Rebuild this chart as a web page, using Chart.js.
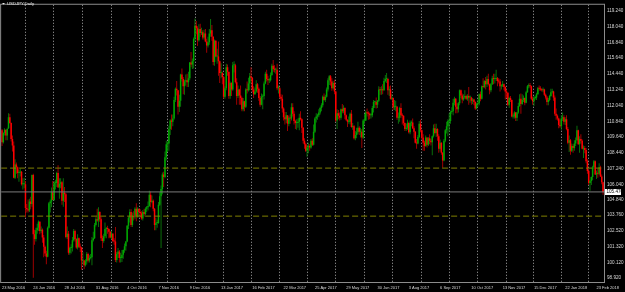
<!DOCTYPE html>
<html>
<head>
<meta charset="utf-8">
<title>USDJPY,Daily</title>
<script src="https://cdn.jsdelivr.net/npm/chart.js@4.4.0/dist/chart.umd.min.js"></script>
<style>
  html, body { margin: 0; padding: 0; background: #000; }
  canvas { display: block; }
</style>
</head>
<body>
<canvas id="chart" width="625" height="292"></canvas>
<script>
// USDJPY daily bars, 23 May 2016 .. 2 Mar 2018, one line per month
var opens = [
  110.15,109.25,109.95,110.2,109.75,110.3,111.15,
  110.7,109.5,109.0,106.55,107.55,107.35,106.9,106.95,107.0,106.05,106.05,106.05,104.25,104.15,104.05,104.75,104.55,106.75,102.25,101.9,102.55,102.75,
  103.2,102.5,102.6,102.0,101.3,100.8,100.55,102.75,104.6,104.75,105.45,104.85,106.15,106.15,106.9,105.8,106.1,106.2,104.8,105.4,105.3,
  102.05,102.3,100.85,101.2,101.25,101.8,102.5,101.9,101.25,101.95,101.3,101.25,100.25,100.25,99.9,100.2,100.75,100.25,100.45,100.5,101.8,101.95,102.95,
  103.4,103.3,103.95,103.4,101.95,101.75,102.1,102.65,102.7,102.65,102.45,102.0,102.3,101.75,101.7,100.3,100.75,100.95,100.45,100.45,100.7,101.05,
  101.35,101.7,102.9,103.5,103.95,102.95,103.65,103.55,104.2,103.6,104.2,103.95,103.85,103.45,103.95,103.8,104.2,104.3,104.4,105.25,104.7,
  104.8,104.2,102.95,103.1,103.1,104.5,105.15,105.7,106.8,106.6,108.1,109.1,109.15,110.25,110.9,110.8,111.05,112.45,113.3,113.2,111.95,112.4,
  114.4,114.05,113.5,113.85,113.95,113.8,114.1,115.3,115.15,115.4,117.1,118.1,117.9,117.0,117.85,117.55,117.6,117.2,117.5,116.9,116.6,
  116.85,117.5,117.75,117.25,115.35,116.95,115.75,115.75,115.4,114.5,114.5,114.2,112.7,113.35,114.95,114.6,112.75,113.75,113.25,115.1,115.1,113.8,
  112.75,113.25,112.8,112.6,111.75,112.35,111.95,113.25,113.2,113.7,114.25,114.15,113.25,112.9,113.1,113.65,113.3,112.6,112.1,112.7,
  112.75,113.7,114.45,114.05,113.95,113.95,114.35,115.05,114.8,114.75,114.75,113.35,113.35,112.7,112.55,111.8,111.15,111.0,111.3,110.65,111.1,111.05,111.9,
  111.4,110.85,110.7,110.7,110.8,111.1,111.0,110.35,109.35,109.1,108.6,108.85,108.95,108.85,109.35,109.05,110.05,111.05,111.2,111.3,
  111.5,111.85,112.05,112.7,112.45,112.7,113.25,113.95,114.25,113.85,113.35,113.75,113.1,110.9,111.45,111.25,111.1,111.75,111.6,111.85,111.3,110.95,110.8,
  110.8,111.4,110.4,110.45,109.55,109.8,110.0,110.35,110.05,110.05,109.6,110.9,110.9,111.5,111.45,111.4,111.3,111.3,111.85,112.3,112.3,112.1,
  112.4,113.25,113.2,113.25,113.2,113.9,114.05,114.05,113.2,113.25,112.55,112.6,111.9,111.95,111.95,111.1,111.1,111.85,111.3,111.25,110.7,
  110.25,110.35,110.7,110.0,110.7,110.75,110.3,110.05,109.2,109.15,109.65,110.65,110.15,109.6,109.2,108.95,109.6,109.05,109.55,109.35,109.25,109.7,110.3,
  109.95,110.25,109.7,108.75,109.2,108.45,107.85,109.35,110.15,110.45,110.85,110.85,111.55,111.6,112.25,112.55,111.95,111.75,112.2,113.2,112.8,
  112.5,112.65,112.75,112.55,112.75,112.65,112.65,112.4,112.5,112.3,111.8,112.15,112.2,112.9,112.55,113.5,113.45,113.9,113.65,114.05,113.65,113.2,
  113.65,114.1,114.05,114.05,114.1,113.9,113.85,113.5,113.55,113.65,113.45,113.1,113.0,112.1,112.6,112.45,111.2,111.2,111.5,111.1,111.5,112.0,
  112.55,112.15,112.45,112.6,112.25,113.05,113.5,113.55,113.5,112.55,112.35,112.6,112.65,112.9,113.35,113.3,113.25,113.2,113.25,112.85,
  112.65,112.3,112.45,112.75,113.05,113.1,112.65,111.4,111.25,111.05,110.55,110.45,111.05,111.15,110.8,111.0,110.25,109.2,109.4,108.6,108.95,108.8,
  109.15,109.4,110.15,109.1,109.5,109.35,108.75,108.8,108.65,107.8,107.05,106.15,106.3,106.6,107.35,107.8,106.8,106.9,106.85,107.35,106.65,106.2
];
var highs = [
  110.25,110.0,110.3,110.2,110.35,111.45,111.4,
  110.75,109.75,109.3,107.95,107.7,107.4,107.15,107.25,107.05,106.5,106.55,106.3,104.55,104.9,104.95,105.1,106.8,106.85,102.6,102.75,103.05,103.3,
  103.25,102.85,102.7,102.2,101.4,101.0,102.85,104.7,104.9,105.8,106.3,106.3,106.4,107.0,107.5,106.5,106.5,106.3,106.5,105.85,105.4,
  102.85,102.5,101.3,101.5,102.05,102.65,102.6,101.95,102.25,102.0,101.55,101.3,100.9,100.3,100.35,100.9,100.85,100.65,100.75,102.05,102.45,103.1,103.55,
  104.2,104.3,104.0,103.55,102.15,102.3,103.15,102.8,102.9,102.7,102.5,102.5,102.35,101.95,102.8,100.9,101.2,101.05,100.85,101.05,101.1,101.55,
  101.75,102.95,103.6,104.15,104.15,103.9,104.0,104.3,104.6,104.3,104.2,104.15,104.0,104.1,104.2,104.3,104.4,104.75,105.55,105.5,105.2,
  104.9,104.25,103.5,103.35,104.7,105.45,105.95,106.95,107.0,108.55,109.35,109.3,110.5,111.0,111.35,111.35,112.7,113.4,113.9,113.2,112.85,114.45,
  114.85,114.2,114.0,114.4,114.45,114.6,115.35,116.1,115.6,117.2,118.65,118.45,118.05,118.2,118.25,117.95,117.75,117.8,117.85,117.1,117.25,
  117.85,118.6,118.15,117.3,117.05,117.0,116.35,116.9,115.45,115.25,114.6,114.25,113.5,115.2,115.15,114.6,113.85,113.8,115.35,115.4,115.2,114.1,
  113.55,113.3,113.55,112.7,112.6,112.4,113.35,113.85,114.15,114.5,114.95,114.2,113.5,113.4,113.95,113.75,113.4,112.75,112.95,112.9,
  113.85,114.6,114.75,114.3,114.1,114.55,115.2,115.5,115.1,114.9,115.2,113.55,113.45,112.9,112.85,111.9,111.55,111.55,111.3,111.25,111.35,112.2,112.2,
  111.6,110.95,111.0,111.05,111.4,111.6,111.05,110.4,109.55,109.2,109.05,109.2,109.1,109.5,109.55,110.6,111.15,111.45,111.4,111.75,
  111.95,112.2,112.8,112.95,112.85,113.4,114.1,114.35,114.35,114.1,113.9,114.0,113.15,111.75,111.7,111.5,111.8,112.15,112.05,111.9,111.35,111.0,111.2,
  111.5,111.7,110.7,110.55,110.1,110.35,110.8,110.45,110.35,110.25,111.0,111.4,111.65,111.8,111.6,111.5,111.45,112.0,112.45,112.4,112.65,112.45,
  113.5,113.45,113.5,113.65,114.15,114.35,114.5,114.15,113.5,113.55,112.9,112.65,112.45,112.4,112.0,111.5,111.95,112.2,111.45,111.3,110.75,
  110.65,110.95,110.8,110.9,110.9,111.05,110.45,110.1,109.5,109.8,110.85,110.95,110.2,109.85,109.35,109.75,109.6,109.65,109.85,109.5,109.75,110.6,110.65,
  110.65,110.3,109.85,109.45,109.25,108.5,109.5,110.25,110.8,111.0,111.45,111.65,111.9,112.55,112.7,112.6,112.2,112.3,113.25,113.25,112.95,
  112.9,113.2,112.85,112.9,113.45,112.8,112.7,112.6,112.55,112.35,112.25,112.5,112.95,113.1,113.55,114.1,113.95,114.2,114.3,114.45,113.7,113.75,
  114.3,114.45,114.45,114.75,114.2,114.1,114.05,113.65,113.9,113.7,113.5,113.25,113.05,112.7,112.75,112.5,111.4,111.6,111.55,111.55,112.25,112.9,
  112.95,112.9,112.8,112.65,113.15,113.6,113.7,113.75,113.55,112.7,112.75,112.8,113.0,113.45,113.55,113.5,113.35,113.4,113.3,112.95,
  112.75,112.6,112.85,113.3,113.3,113.15,112.8,111.8,111.35,111.1,110.95,111.3,111.5,111.3,111.15,111.3,110.4,109.75,109.5,109.15,109.1,109.4,
  109.6,110.5,110.2,109.7,109.85,109.45,109.0,108.95,108.8,107.95,107.15,106.4,106.65,107.45,107.9,107.85,107.1,107.25,107.65,107.45,106.8,106.25
];
var lows = [
  108.95,109.15,109.75,109.4,109.4,110.25,110.65,
  109.3,108.55,106.5,106.45,106.85,106.5,106.25,106.65,105.95,105.65,105.75,103.55,103.9,103.9,103.95,104.15,104.35,98.95,101.45,101.7,102.3,102.5,
  102.25,102.35,101.6,100.5,100.6,99.98,100.5,102.7,103.9,104.3,104.85,104.8,105.65,105.85,105.8,104.95,105.75,104.5,104.35,104.7,101.95,
  101.9,100.7,100.7,100.8,100.95,101.7,101.7,101.15,101.1,101.2,100.9,99.55,99.95,99.6,99.8,99.95,100.1,100.1,100.35,99.9,101.7,101.9,102.85,
  103.2,102.8,103.2,101.75,101.2,101.6,101.95,101.95,102.3,101.95,101.95,101.85,101.65,101.45,100.15,100.1,100.45,100.1,100.1,100.15,100.4,100.85,
  101.0,101.65,102.65,103.15,102.8,102.8,103.3,103.4,103.25,103.5,103.55,103.55,103.35,103.3,103.6,103.7,103.95,104.05,104.35,104.3,104.6,
  104.0,102.55,102.55,102.75,103.05,104.4,101.2,105.3,105.85,106.5,107.85,108.5,108.6,109.8,110.2,110.45,110.95,112.3,112.8,111.35,111.55,111.95,
  113.85,112.9,112.85,113.55,113.45,113.45,113.95,114.95,114.8,114.85,116.95,117.45,116.55,116.9,117.25,117.4,117.05,117.05,116.85,116.05,116.45,
  116.65,117.25,116.95,115.1,115.05,115.7,115.2,114.3,113.75,114.1,113.65,112.55,112.55,113.2,114.3,112.55,112.55,112.75,113.15,114.55,113.7,112.1,
  112.6,112.1,112.1,111.6,111.6,111.6,111.85,112.95,113.1,113.2,113.9,113.05,112.6,112.85,113.0,113.0,112.4,111.95,112.05,111.75,
  112.5,113.65,113.85,113.6,113.75,113.85,114.3,114.6,114.55,114.45,113.2,112.95,112.55,112.4,111.5,110.9,110.6,110.7,110.1,110.45,110.65,110.9,111.2,
  110.6,110.25,110.2,110.35,110.15,110.9,109.95,109.15,108.75,108.5,108.15,108.4,108.6,108.75,108.95,109.0,109.95,110.75,110.95,111.15,
  111.35,111.6,111.9,112.4,112.3,112.65,113.1,113.6,113.55,113.15,113.25,112.9,110.8,110.25,111.0,110.9,110.95,111.45,111.45,111.0,110.85,110.4,110.65,
  110.6,110.35,110.2,109.45,109.4,109.55,109.85,109.8,109.6,108.8,109.5,110.65,110.85,111.2,110.95,111.0,111.05,111.15,111.5,111.85,111.8,111.85,
  112.3,112.85,112.85,112.9,113.15,113.8,113.75,112.85,112.75,112.5,112.45,111.7,111.7,111.6,110.95,110.65,110.8,111.1,110.6,110.5,110.1,
  110.1,110.2,109.9,109.85,110.45,110.25,109.55,109.15,108.75,109.1,109.55,110.0,109.5,108.6,108.6,108.9,108.85,108.95,109.1,109.0,108.25,109.6,109.85,
  109.65,109.35,108.45,108.55,108.3,107.3,107.8,109.25,109.9,109.7,110.05,110.65,111.4,111.3,112.05,111.45,111.45,111.5,112.05,112.6,112.2,
  112.4,112.55,112.45,112.4,112.1,112.25,112.1,112.15,112.05,111.7,111.75,111.95,112.05,112.35,112.5,113.35,113.35,113.25,113.45,113.55,112.9,113.05,
  113.6,113.65,113.7,113.9,113.5,113.7,113.1,113.25,113.45,113.2,112.5,112.6,112.0,111.85,112.3,111.15,111.05,111.05,110.85,110.85,111.4,111.95,
  111.4,112.1,112.3,112.05,112.2,113.0,113.35,113.35,112.45,112.1,112.0,112.5,112.45,112.85,113.15,113.15,113.1,113.05,112.75,112.5,
  112.05,112.05,112.35,112.7,112.95,112.4,111.25,110.95,110.9,110.3,110.35,110.2,110.85,110.6,110.55,110.15,109.1,108.5,108.3,108.5,108.45,108.6,
  108.95,109.35,109.05,108.45,109.15,108.7,108.05,108.4,107.65,106.85,106.0,105.55,106.0,106.35,107.2,106.75,106.45,106.55,106.75,106.6,106.05,105.25
];
var closes = [
  109.25,109.95,110.2,109.75,110.25,111.15,110.7,
  109.5,109.0,106.55,107.55,107.35,106.9,106.95,107.0,106.05,106.05,106.05,104.25,104.15,104.05,104.75,104.55,106.75,102.25,101.9,102.55,102.75,103.2,
  102.5,102.6,102.0,101.3,100.8,100.55,102.75,104.6,104.75,105.45,104.85,106.15,106.15,106.9,105.8,106.1,106.2,104.8,105.4,105.3,102.05,
  102.3,100.85,101.2,101.25,101.8,102.5,101.9,101.25,101.95,101.3,101.25,100.25,100.25,99.9,100.2,100.75,100.25,100.45,100.5,101.8,101.95,102.95,103.4,
  103.3,103.95,103.4,101.95,101.75,102.1,102.65,102.7,102.65,102.45,102.0,102.3,101.75,101.7,100.3,100.75,100.95,100.45,100.45,100.7,101.05,101.35,
  101.7,102.9,103.5,103.95,102.95,103.65,103.55,104.2,103.6,104.2,103.95,103.85,103.45,103.95,103.8,104.2,104.3,104.4,105.25,104.7,104.8,
  104.2,102.95,103.1,103.1,104.5,105.15,105.7,106.8,106.6,108.1,109.1,109.15,110.25,110.9,110.8,111.05,112.45,113.3,113.2,111.95,112.4,114.4,
  114.05,113.5,113.85,113.95,113.8,114.1,115.3,115.15,115.4,117.1,118.1,117.9,117.0,117.85,117.55,117.6,117.2,117.5,116.9,116.6,116.85,
  117.5,117.75,117.25,115.35,116.95,115.75,115.75,115.4,114.5,114.5,114.2,112.7,113.35,114.95,114.6,112.75,113.75,113.25,115.1,115.1,113.8,112.75,
  113.25,112.8,112.6,111.75,112.35,111.95,113.25,113.2,113.7,114.25,114.15,113.25,112.9,113.1,113.65,113.3,112.6,112.1,112.7,112.75,
  113.7,114.45,114.05,113.95,113.95,114.35,115.05,114.8,114.75,114.75,113.35,113.35,112.7,112.55,111.8,111.15,111.0,111.3,110.65,111.1,111.05,111.9,111.4,
  110.85,110.7,110.7,110.8,111.1,111.0,110.35,109.35,109.1,108.6,108.85,108.95,108.85,109.35,109.05,110.05,111.05,111.2,111.3,111.5,
  111.85,112.05,112.7,112.45,112.7,113.25,113.95,114.25,113.85,113.35,113.75,113.1,110.9,111.45,111.25,111.1,111.75,111.6,111.85,111.3,110.95,110.8,110.8,
  111.4,110.4,110.45,109.55,109.8,110.0,110.35,110.05,110.05,109.6,110.9,110.9,111.5,111.45,111.4,111.3,111.3,111.85,112.3,112.3,112.1,112.4,
  113.25,113.2,113.25,113.2,113.9,114.05,114.05,113.2,113.25,112.55,112.6,111.9,111.95,111.95,111.1,111.1,111.85,111.3,111.25,110.7,110.25,
  110.35,110.7,110.0,110.7,110.75,110.3,110.05,109.2,109.15,109.65,110.65,110.15,109.6,109.2,108.95,109.6,109.05,109.55,109.35,109.25,109.7,110.3,109.95,
  110.25,109.7,108.75,109.2,108.45,107.85,109.35,110.15,110.45,110.85,110.85,111.55,111.6,112.25,112.55,111.95,111.75,112.2,113.2,112.8,112.5,
  112.65,112.75,112.55,112.75,112.65,112.65,112.4,112.5,112.3,111.8,112.15,112.2,112.9,112.55,113.5,113.45,113.9,113.65,114.05,113.65,113.2,113.65,
  114.1,114.05,114.05,114.1,113.9,113.85,113.5,113.55,113.65,113.45,113.1,113.0,112.1,112.6,112.45,111.2,111.2,111.5,111.1,111.5,112.0,112.55,
  112.15,112.45,112.6,112.25,113.05,113.5,113.55,113.5,112.55,112.35,112.6,112.65,112.9,113.35,113.3,113.25,113.2,113.25,112.85,112.65,
  112.3,112.45,112.75,113.05,113.1,112.65,111.4,111.25,111.05,110.55,110.45,111.05,111.15,110.8,111.0,110.25,109.2,109.4,108.6,108.95,108.8,109.15,
  109.4,110.15,109.1,109.5,109.35,108.75,108.8,108.65,107.8,107.05,106.15,106.3,106.6,107.35,107.8,106.8,106.9,106.85,107.35,106.65,106.2,105.47
];

// trading calendar of the bars
var firstDay = '2016-05-23';
var lastDay = '2018-03-02';
var holidays = ['2016-12-26', '2017-12-25', '2018-01-01'];
var monthNames = ['Jan','Feb','Mar','Apr','May','Jun','Jul','Aug','Sep','Oct','Nov','Dec'];
var labelStep = 24;   // a date label every 24 bars

// right-hand price scale labels and horizontal levels
var priceTicks = [119.24, 118.04, 116.84, 115.64, 114.44, 113.24, 112.04, 110.84, 109.64,
                  108.44, 107.24, 106.04, 104.84, 103.76, 102.52, 101.32, 100.12, 98.92];
var levelLines = [107.28, 103.63];
var bidPrice = closes[closes.length - 1];
var symbolTitle = 'USDJPY,Daily';

var barDates = [];
for (var d = new Date(firstDay + 'T00:00:00Z'); d <= new Date(lastDay + 'T00:00:00Z'); d.setUTCDate(d.getUTCDate() + 1)) {
    var wd = d.getUTCDay();
    if (wd === 0 || wd === 6 || holidays.indexOf(d.toISOString().slice(0, 10)) >= 0) continue;
    barDates.push(new Date(d.getTime()));
}

function dateLabel(i) {
    var dt = barDates[i];
    if (!dt) return '';
    return dt.getUTCDate() + ' ' + monthNames[dt.getUTCMonth()] + ' ' + dt.getUTCFullYear();
}

var labelBars = [];
for (var i = 0; i < barDates.length; i += labelStep) labelBars.push(i);
var monthBars = [];
for (var i = 1; i < barDates.length; i++) {
    if (barDates[i].getUTCMonth() !== barDates[i - 1].getUTCMonth()) monthBars.push(i);
}

var xMin = -0.67, xMax = 462.5;

var wickData = [], bodyData = [], wickColors = [], bodyColors = [];
for (var i = 0; i < closes.length; i++) {
    var up = closes[i] >= opens[i];
    wickData.push({x: i, y: [lows[i], highs[i]]});
    bodyData.push({x: i, y: [opens[i], closes[i]]});
    wickColors.push(up ? '#0b7a0b' : '#b00000');
    bodyColors.push(up ? '#00a800' : '#ff0000');
}

var levelSets = levelLines.map(function(v) {
    return {
        type: 'line', xAxisID: 'x', yAxisID: 'y', order: 0,
        data: [{x: xMin, y: v}, {x: xMax, y: v}],
        borderColor: '#808000', borderWidth: 1, borderDash: [6, 3],
        pointRadius: 0, fill: false
    };
});

var extras = {
    id: 'extras',
    beforeDraw: function(chart) {
        var c = chart.ctx;
        c.save();
        c.fillStyle = '#000';
        c.fillRect(0, 0, chart.width, chart.height);
        c.restore();
    },
    afterDraw: function(chart) {
        var c = chart.ctx, a = chart.chartArea;
        c.save();
        // frame
        c.strokeStyle = '#8c8c8c';
        c.lineWidth = 1;
        c.strokeRect(a.left - 0.5, a.top - 0.5, a.right - a.left, a.bottom - a.top);
        // symbol title with the little menu triangle
        c.fillStyle = '#e8e8e8';
        c.beginPath();
        c.moveTo(2, 3); c.lineTo(5, 3); c.lineTo(3.5, 4.6); c.closePath();
        c.fill();
        c.font = '4.3px "Liberation Sans"';
        c.textBaseline = 'middle';
        c.fillText(symbolTitle, 7, 4.3);
        // current price box
        var y = chart.scales.y.getPixelForValue(bidPrice);
        c.fillStyle = '#ffffff';
        c.fillRect(a.right, Math.round(y) - 3, 16, 6);
        c.fillStyle = '#000';
        c.font = '4.6px "Liberation Sans"';
        c.fillText(bidPrice.toFixed(3), a.right + 1.5, Math.round(y));
        c.restore();
    }
};

Chart.defaults.font.family = '"Liberation Sans", Arial, sans-serif';

new Chart(document.getElementById('chart'), {
    type: 'bar',
    data: {
        datasets: levelSets.concat([
            {
                // bid line
                type: 'line', xAxisID: 'x', yAxisID: 'y', order: 1,
                data: [{x: xMin, y: bidPrice}, {x: xMax, y: bidPrice}],
                borderColor: '#7a7a7a', borderWidth: 1, pointRadius: 0, fill: false
            },
            {
                xAxisID: 'x', yAxisID: 'y', order: 2,
                data: bodyData,
                backgroundColor: bodyColors,
                barThickness: 1.5,
                minBarLength: 1,
                grouped: false,
                inflateAmount: 0,
                borderWidth: 0
            },
            {
                xAxisID: 'x', yAxisID: 'y', order: 3,
                data: wickData,
                backgroundColor: wickColors,
                barThickness: 0.9,
                grouped: false,
                inflateAmount: 0,
                borderWidth: 0
            }
        ])
    },
    plugins: [extras],
    options: {
        responsive: false,
        devicePixelRatio: 1,
        animation: false,
        layout: { padding: { left: 1, top: 1, right: 0, bottom: 0 } },
        plugins: {
            legend: { display: false },
            tooltip: { enabled: false }
        },
        scales: {
            x: {
                type: 'linear',
                position: 'bottom',
                min: xMin,
                max: xMax,
                bounds: 'data',
                offset: false,
                grid: { display: false, drawTicks: false, offset: false },
                border: { display: false },
                afterBuildTicks: function(scale) {
                    scale.ticks = labelBars.map(function(v) { return {value: v}; });
                },
                afterFit: function(scale) { scale.height = 9; },
                ticks: {
                    autoSkip: false,
                    maxRotation: 0,
                    align: 'start',
                    padding: 2,
                    color: '#d8d8d8',
                    font: { size: 4 },
                    callback: function(v) { return dateLabel(v); }
                }
            },
            xg: {
                type: 'linear',
                position: 'bottom',
                min: xMin,
                max: xMax,
                bounds: 'data',
                offset: false,
                grid: { display: true, drawTicks: false, color: '#a8a8a8', lineWidth: 1 },
                border: { display: false, dash: [1, 2] },
                ticks: { display: false },
                afterBuildTicks: function(scale) {
                    scale.ticks = monthBars.map(function(v) { return {value: v}; });
                },
                afterFit: function(scale) { scale.height = 0; }
            },
            y: {
                type: 'linear',
                position: 'right',
                min: 98.55,
                max: 119.69,
                bounds: 'data',
                grid: { display: false, drawTicks: false },
                border: { display: false },
                afterBuildTicks: function(scale) {
                    scale.ticks = priceTicks.map(function(v) { return {value: v}; });
                },
                afterFit: function(scale) { scale.width = 20; },
                ticks: {
                    autoSkip: false,
                    padding: 2,
                    color: '#d8d8d8',
                    font: { size: 4.6 },
                    callback: function(v) { return v.toFixed(3); }
                }
            }
        }
    }
});
</script>
</body>
</html>
